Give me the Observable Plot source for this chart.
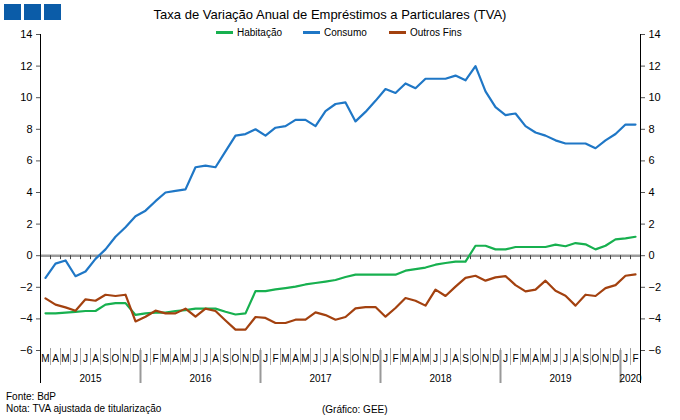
<!DOCTYPE html>
<html><head><meta charset="utf-8">
<script src="https://cdn.jsdelivr.net/npm/d3@7"></script>
<script src="https://cdn.jsdelivr.net/npm/@observablehq/plot@0.6"></script>
<style>
body{margin:0;background:#fff;font-family:"Liberation Sans",Arial,sans-serif;color:#000}
#wrap{position:relative;width:680px;height:420px;overflow:hidden}
#chart{position:absolute;left:0;top:0}
.sq{position:absolute;top:4px;width:17px;height:16px;background:#0b5ca8}
#title{position:absolute;top:7px;left:0;width:660px;text-align:center;font-size:13px;line-height:15px}
.lg{position:absolute;top:27px;font-size:10px;line-height:12px;white-space:nowrap}
.lg i{display:inline-block;width:17px;height:3px;vertical-align:middle;margin-right:4px;position:relative;top:-1px}
.ft{position:absolute;font-size:10px;line-height:12px;white-space:nowrap}
</style></head>
<body><div id="wrap">
<div class="sq" style="left:4px"></div><div class="sq" style="left:24px"></div><div class="sq" style="left:44px"></div>
<div id="title"></div>
<div id="legend"></div>
<div id="chart"></div>
<div class="ft" style="left:6px;top:391px">Fonte: BdP</div>
<div class="ft" style="left:6px;top:403px">Nota: TVA ajustada de titularização</div>
<div class="ft" style="left:322px;top:404px">(Gráfico: GEE)</div>
</div>
<script>
const title = "Taxa de Variação Anual de Empréstimos a Particulares (TVA)";
const seriesNames = ["Habitação", "Consumo", "Outros Fins"];
const seriesColors = ["#17b04f", "#1f77c6", "#a3410f"];
// months Mar 2015 .. Feb 2020
const monthLetters = ["M","A","M","J","J","A","S","O","N","D",
 "J","F","M","A","M","J","J","A","S","O","N","D",
 "J","F","M","A","M","J","J","A","S","O","N","D",
 "J","F","M","A","M","J","J","A","S","O","N","D",
 "J","F","M","A","M","J","J","A","S","O","N","D",
 "J","F"];
const years = ["2015","2016","2017","2018","2019","2020"];
const yearStart = [0, 10, 22, 34, 46, 58];
const yearEnd = [9, 21, 33, 45, 57, 59];
const yTicks = [-6,-4,-2,0,2,4,6,8,10,12,14];

const habitacao = [-3.65,-3.65,-3.6,-3.55,-3.5,-3.5,-3.1,-3.0,-3.0,-3.75,
 -3.65,-3.6,-3.6,-3.5,-3.45,-3.35,-3.35,-3.35,-3.55,-3.72,-3.65,-2.24,
 -2.24,-2.13,-2.05,-1.96,-1.82,-1.73,-1.64,-1.54,-1.35,-1.2,-1.2,-1.2,
 -1.2,-1.2,-0.95,-0.85,-0.75,-0.57,-0.46,-0.38,-0.38,0.63,0.63,0.4,
 0.4,0.55,0.55,0.55,0.55,0.7,0.6,0.8,0.72,0.4,0.63,1.03,
 1.1,1.2];
const consumo = [-1.4,-0.5,-0.3,-1.3,-1.0,-0.2,0.4,1.2,1.8,2.5,
 2.85,3.45,4.0,4.1,4.2,5.6,5.7,5.6,6.6,7.6,7.7,8.0,
 7.6,8.1,8.2,8.6,8.6,8.2,9.15,9.6,9.7,8.5,9.1,9.8,
 10.55,10.3,10.9,10.6,11.2,11.2,11.2,11.4,11.1,12.0,10.4,9.4,
 8.9,9.0,8.2,7.8,7.6,7.3,7.1,7.1,7.1,6.8,7.3,7.7,
 8.3,8.3];
const outrosFins = [-2.7,-3.1,-3.27,-3.48,-2.76,-2.85,-2.47,-2.55,-2.47,-4.16,
 -3.86,-3.48,-3.65,-3.65,-3.35,-3.86,-3.35,-3.5,-4.1,-4.68,-4.68,-3.88,
 -3.94,-4.26,-4.26,-4.05,-4.05,-3.59,-3.76,-4.05,-3.88,-3.33,-3.25,-3.25,
 -3.86,-3.31,-2.68,-2.85,-3.16,-2.15,-2.55,-1.96,-1.4,-1.27,-1.58,-1.37,
 -1.29,-1.86,-2.26,-2.15,-1.58,-2.22,-2.53,-3.16,-2.47,-2.55,-2.05,-1.86,
 -1.27,-1.18];

document.getElementById("title").textContent = title;
const lg = document.getElementById("legend");
const lgLeft = [216, 303, 389];
seriesNames.forEach((n, k) => {
  const d = document.createElement("div");
  d.className = "lg"; d.style.left = lgLeft[k] + "px";
  d.innerHTML = `<i style="background:${seriesColors[k]}"></i>${n}`;
  lg.appendChild(d);
});

const idx = monthLetters.map((_, i) => i);
const rows = [];
[habitacao, consumo, outrosFins].forEach((arr, k) => arr.forEach((v, i) => rows.push({i, v, s: seriesNames[k]})));
const bounds = d3.range(0.5, monthLetters.length - 1, 1);
const edges = [-0.5, monthLetters.length - 0.5];
const yearSeps = yearStart.slice(1).map(s => s - 0.5);
const yearCenters = yearStart.map((s, k) => (s + yearEnd[k]) / 2);

const chart = Plot.plot({
  width: 680, height: 390,
  marginTop: 34, marginBottom: 40, marginLeft: 40, marginRight: 40,
  style: {fontFamily: "Liberation Sans, Arial, sans-serif", fontSize: "11px", background: "transparent"},
  x: {domain: edges, axis: null},
  y: {domain: [-6, 14], axis: null},
  color: {domain: seriesNames, range: seriesColors},
  marks: [
    Plot.ruleY([0], {stroke: "#9a9a9a", strokeWidth: 2.5}),
    Plot.ruleX(bounds, {y1: 0, y2: -0.25, stroke: "#444", strokeWidth: 1}),
    Plot.ruleX(bounds, {y1: -6, y2: -5.88, stroke: "#999", strokeWidth: 1}),
    Plot.axisX(bounds, {anchor: "bottom", tickSize: 15, tickFormat: () => "", stroke: "#aaa", label: null}),
    Plot.axisX(yearSeps, {anchor: "bottom", tickSize: 33, tickFormat: () => "", stroke: "#999", strokeWidth: 2, label: null}),
    Plot.axisX(edges, {anchor: "bottom", tickSize: 33, tickFormat: () => "", stroke: "#000", label: null}),
    Plot.ruleX(edges, {y1: 14, y2: -6, stroke: "#000"}),
    Plot.axisX(idx, {anchor: "bottom", tickSize: 0, tickPadding: 4, tickFormat: i => monthLetters[i], fontSize: 10, label: null}),
    Plot.axisX(yearCenters, {anchor: "bottom", tickSize: 0, tickPadding: 24, tickFormat: (c) => years[yearCenters.indexOf(c)], fontSize: 10, label: null}),
    Plot.axisY(yTicks, {anchor: "left", tickSize: 4, tickPadding: 4, stroke: "#555", fontSize: 11, label: null}),
    Plot.axisY(yTicks, {anchor: "right", tickSize: 4, tickPadding: 4, stroke: "#555", fontSize: 11, label: null}),
    Plot.line(rows, {x: "i", y: "v", z: "s", stroke: "s", strokeWidth: 2.2, strokeLinejoin: "round"})
  ]
});
document.getElementById("chart").appendChild(chart);
</script>
</body></html>
